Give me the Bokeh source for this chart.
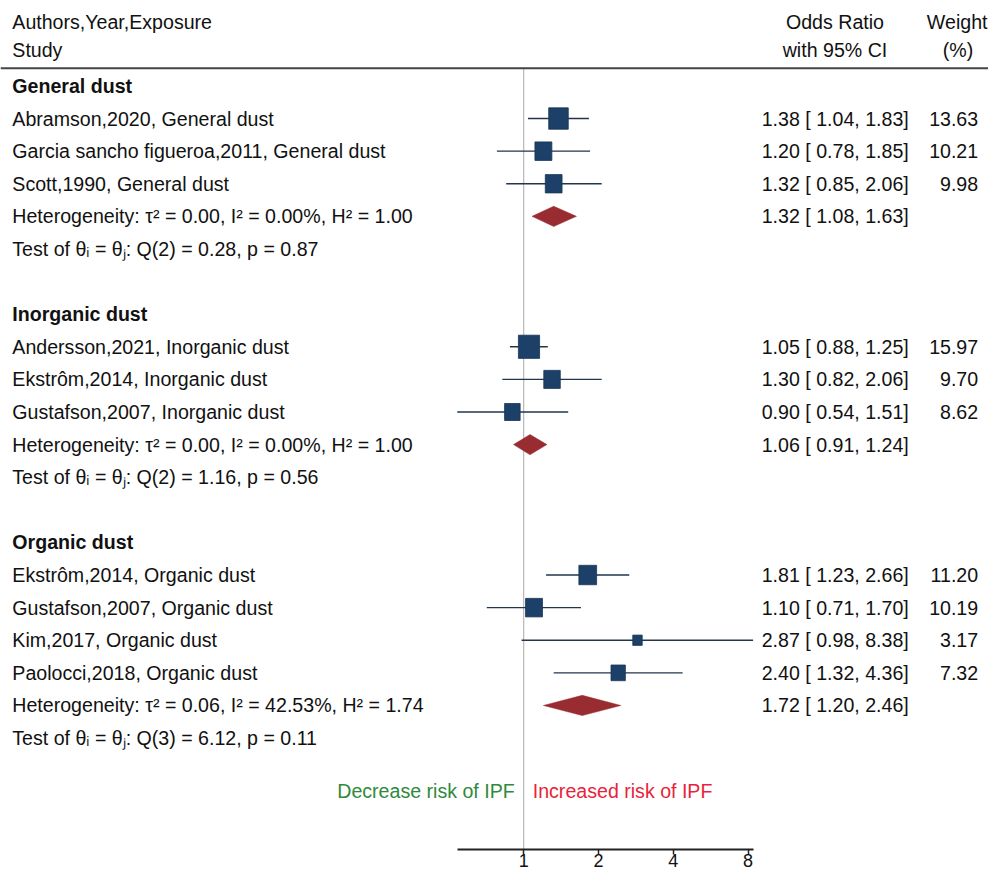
from bokeh.plotting import figure
from bokeh.models import Range1d, FixedTicker, Span, ColumnDataSource
from bokeh.embed import file_html
from bokeh.resources import INLINE
from bokeh.core.properties import value
import math

# ---------------- data ----------------
groups = ["General dust", "Inorganic dust", "Organic dust"]
studies = [
    ["Abramson,2020, General dust", "Garcia sancho figueroa,2011, General dust", "Scott,1990, General dust"],
    ["Andersson,2021, Inorganic dust", "Ekstrôm,2014, Inorganic dust", "Gustafson,2007, Inorganic dust"],
    ["Ekstrôm,2014, Organic dust", "Gustafson,2007, Organic dust", "Kim,2017, Organic dust", "Paolocci,2018, Organic dust"],
]
or_est = [[1.38, 1.20, 1.32], [1.05, 1.30, 0.90], [1.81, 1.10, 2.87, 2.40]]
or_lo = [[1.04, 0.78, 0.85], [0.88, 0.82, 0.54], [1.23, 0.71, 0.98, 1.32]]
or_hi = [[1.83, 1.85, 2.06], [1.25, 2.06, 1.51], [2.66, 1.70, 8.38, 4.36]]
weights = [[13.63, 10.21, 9.98], [15.97, 9.70, 8.62], [11.20, 10.19, 3.17, 7.32]]
pooled_est = [1.32, 1.06, 1.72]
pooled_lo = [1.08, 0.91, 1.20]
pooled_hi = [1.63, 1.24, 2.46]
het_labels = [
    "Heterogeneity: τ² = 0.00, I² = 0.00%, H² = 1.00",
    "Heterogeneity: τ² = 0.00, I² = 0.00%, H² = 1.00",
    "Heterogeneity: τ² = 0.06, I² = 42.53%, H² = 1.74",
]
test_labels = [
    "Test of θᵢ = θⱼ: Q(2) = 0.28, p = 0.87",
    "Test of θᵢ = θⱼ: Q(2) = 1.16, p = 0.56",
    "Test of θᵢ = θⱼ: Q(3) = 6.12, p = 0.11",
]
x_ticks = [1, 2, 4, 8]
header_left = ["Authors,Year,Exposure", "Study"]
header_or = ["Odds Ratio", "with 95% CI"]
header_w = ["Weight", "(%)"]
note_left = "Decrease risk of IPF"
note_right = "Increased risk of IPF"

# ---------------- layout ----------------
W, H = 988, 878
SX, SY = W / 1004.0, H / 894.0
X1_PX = 531.7 * SX            # screen x of OR = 1
PX_PER_DOUBLING = 76.0 * SX
Y0_PX = 87.0 * SY             # screen y of row 0
ROW_PX = 33.2 * SY

x_start = 2 ** (-X1_PX / PX_PER_DOUBLING)
x_end = 2 ** ((W - X1_PX) / PX_PER_DOUBLING)
y_top = -Y0_PX / ROW_PX
y_bot = (H - Y0_PX) / ROW_PX

def row_of(ref_px):
    return (ref_px * SY - Y0_PX) / ROW_PX

FONT = value("Liberation Sans")
FS = "19.6px"
TXT = "#111111"

p = figure(width=W, height=H, x_axis_type="log", y_axis_location=None,
           x_range=Range1d(x_start, x_end), y_range=Range1d(y_bot, y_top),
           toolbar_location=None, output_backend="svg", min_border=0,
           outline_line_color=None, background_fill_color="white",
           border_fill_color="white")
p.xgrid.visible = False
p.ygrid.visible = False

# build rows
left_rows, left_text, left_bold = [], [], []
st_rows, st_est, st_lo, st_hi, st_w = [], [], [], [], []
ci_rows, ci_text, w_rows, w_text = [], [], [], []
pool_rows = []
r = 0
for g in range(len(groups)):
    left_rows.append(r); left_text.append(groups[g]); left_bold.append(True)
    r += 1
    for k in range(len(studies[g])):
        left_rows.append(r); left_text.append(studies[g][k]); left_bold.append(False)
        st_rows.append(r); st_est.append(or_est[g][k]); st_lo.append(or_lo[g][k])
        st_hi.append(or_hi[g][k]); st_w.append(weights[g][k])
        ci_rows.append(r)
        ci_text.append(f"{or_est[g][k]:.2f} [ {or_lo[g][k]:.2f}, {or_hi[g][k]:.2f}]")
        w_rows.append(r); w_text.append(f"{weights[g][k]:.2f}")
        r += 1
    left_rows.append(r); left_text.append(het_labels[g]); left_bold.append(False)
    pool_rows.append(r)
    ci_rows.append(r)
    ci_text.append(f"{pooled_est[g]:.2f} [ {pooled_lo[g]:.2f}, {pooled_hi[g]:.2f}]")
    r += 1
    left_rows.append(r); left_text.append(test_labels[g]); left_bold.append(False)
    r += 2

header_line_row = row_of(69)
axis_row = row_of(864)

# header rule
p.add_layout(Span(location=header_line_row, dimension="width", line_color="#444444", line_width=2))

# reference line at OR = 1
p.segment(x0=[1], y0=[header_line_row], x1=[1], y1=[axis_row], line_color="#a8a8a8", line_width=1)

# study CIs and squares
src = ColumnDataSource(dict(y=st_rows, est=st_est, lo=st_lo, hi=st_hi,
                            side=[5.3 * math.sqrt(w) for w in st_w],
                            sideh=[5.8 * math.sqrt(w) for w in st_w]))
p.segment(x0="lo", y0="y", x1="hi", y1="y", source=src, line_color="#22364d", line_width=1.4)
p.rect(x="est", y="y", width="side", height="sideh", width_units="screen", height_units="screen",
       source=src, fill_color="#1c4068", line_color="#1a3555", line_width=0.8)

# pooled diamonds
dh = 10.3 * SY / ROW_PX
xs = [[lo, e, hi, e] for lo, e, hi in zip(pooled_lo, pooled_est, pooled_hi)]
ys = [[y, y - dh, y, y + dh] for y in pool_rows]
p.patches(xs=xs, ys=ys, fill_color="#982c30", line_color="#982c30", line_width=0.5)

# left texts
norm_rows = [y for y, b in zip(left_rows, left_bold) if not b]
norm_text = [t for t, b in zip(left_text, left_bold) if not b]
bold_rows = [y for y, b in zip(left_rows, left_bold) if b]
bold_text = [t for t, b in zip(left_text, left_bold) if b]
LX = 12 * SX
p.text(x=[x_start] * len(norm_rows), y=norm_rows, text=norm_text, x_offset=LX,
       text_font=FONT, text_font_size=FS, text_baseline="middle", text_align="left", text_color=TXT)
p.text(x=[x_start] * len(bold_rows), y=bold_rows, text=bold_text, x_offset=LX,
       text_font=FONT, text_font_size=FS, text_font_style="bold", text_baseline="middle",
       text_align="left", text_color=TXT)

# header texts
hrows = [row_of(22), row_of(50)]
p.text(x=[x_start] * 2, y=hrows, text=header_left, x_offset=LX, text_font=FONT, text_font_size=FS,
       text_baseline="middle", text_align="left", text_color=TXT)
p.text(x=[x_end] * 2, y=hrows, text=header_or, x_offset=(848 - 1004) * SX, text_font=FONT,
       text_font_size=FS, text_baseline="middle", text_align="center", text_color=TXT)
p.text(x=[x_end], y=[hrows[0]], text=[header_w[0]], x_offset=-1, text_font=FONT, text_font_size=FS,
       text_baseline="middle", text_align="right", text_color=TXT)
p.text(x=[x_end], y=[hrows[1]], text=[header_w[1]], x_offset=(973 - 1004) * SX, text_font=FONT,
       text_font_size=FS, text_baseline="middle", text_align="center", text_color=TXT)

# right columns
p.text(x=[x_end] * len(ci_rows), y=ci_rows, text=ci_text, x_offset=(923 - 1004) * SX, text_font=FONT,
       text_font_size=FS, text_baseline="middle", text_align="right", text_color=TXT)
p.text(x=[x_end] * len(w_rows), y=w_rows, text=w_text, x_offset=(993.5 - 1004) * SX, text_font=FONT,
       text_font_size=FS, text_baseline="middle", text_align="right", text_color=TXT)

# risk notes
nrow = row_of(805)
p.text(x=[1], y=[nrow], text=[note_left], x_offset=-9, text_font=FONT, text_font_size=FS,
       text_baseline="middle", text_align="right", text_color="#2f8a3a")
p.text(x=[1], y=[nrow], text=[note_right], x_offset=9, text_font=FONT, text_font_size=FS,
       text_baseline="middle", text_align="left", text_color="#e8233a")

# x axis
ax = p.xaxis[0]
ax.fixed_location = axis_row
ax.bounds = (min(min(v) for v in or_lo), max(max(v) for v in or_hi))
ax.ticker = FixedTicker(ticks=x_ticks, minor_ticks=[])
ax.major_label_overrides = {t: str(t) for t in x_ticks}
ax.minor_tick_line_color = None
ax.major_tick_out = 5
ax.major_tick_in = 0
ax.major_tick_line_width = 1.5
ax.major_tick_line_color = "#222222"
ax.axis_line_width = 2
ax.axis_line_color = "#222222"
ax.major_label_standoff = 0
ax.major_label_text_font = "Liberation Sans"
ax.major_label_text_font_size = "18px"
ax.major_label_text_color = TXT

open("out.html", "w").write(file_html(p, INLINE))
